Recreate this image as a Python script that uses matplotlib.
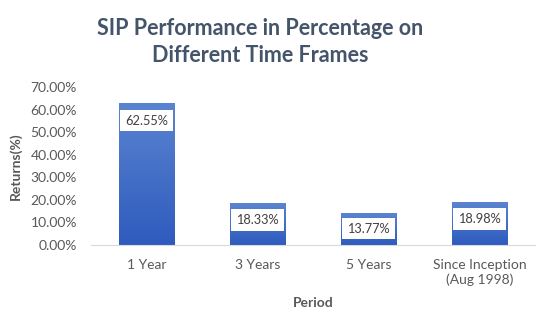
import numpy as np
import matplotlib.pyplot as plt
from matplotlib.colors import LinearSegmentedColormap

categories = ["1 Year", "3 Years", "5 Years", "Since Inception\n(Aug 1998)"]
returns = [62.55, 18.33, 13.77, 18.98]
ytick_vals = [0, 10, 20, 30, 40, 50, 60, 70]

plt.rcParams['font.family'] = ['Lato', 'DejaVu Sans']

fig = plt.figure(figsize=(5.51, 3.26), dpi=100)
ax = fig.add_axes([91 / 551, 1 - 245 / 326, (535 - 91) / 551, (245 - 87) / 326])

x = np.arange(len(categories))
bars = ax.bar(x, returns, width=0.5, color='none', edgecolor='none')

# gradient fill: lighter top, darker bottom
cmap = LinearSegmentedColormap.from_list('blu', ['#2E5BBE', '#5B84D0'])
grad = np.linspace(0, 1, 256).reshape(-1, 1)
for b in bars:
    ax.imshow(grad, extent=[b.get_x(), b.get_x() + b.get_width(), 0, b.get_height()],
              origin='lower', aspect='auto', cmap=cmap, zorder=2)

ax.set_xlim(-0.5, len(categories) - 0.5)
ax.set_ylim(0, 70)

# data labels in white boxes near top of bar
for xi, v in zip(x, returns):
    ax.text(xi, max(v - 7.4, 7.3), f"{v:.2f}%", ha='center', va='center',
            fontsize=9.2, color='#404040', zorder=3,
            bbox=dict(boxstyle='square,pad=0.38', fc='white', ec='none'))

ax.set_xticks(x)
ax.set_xticklabels(categories, fontsize=10, color='#595959', linespacing=1.2)
ax.set_yticks(ytick_vals)
ax.set_yticklabels([f"{v:.2f}%" for v in ytick_vals], fontsize=10, color='#595959')
ax.tick_params(axis='x', length=0, pad=10)
ax.tick_params(axis='y', length=0, pad=10)
for s in ['top', 'right', 'left']:
    ax.spines[s].set_visible(False)
ax.spines['bottom'].set_color('#D9D9D9')

ax.set_ylabel("Returns(%)", fontsize=10, fontweight='bold', color='#595959', labelpad=6)
ax.set_xlabel("Period", fontsize=10, fontweight='bold', color='#595959', labelpad=8)

fig.text(260 / 551, 1 - 42 / 326, "SIP Performance in Percentage on\nDifferent Time Frames",
         ha='center', va='center', fontsize=15.5, fontweight='bold', color='#44546A',
         linespacing=1.35)

fig.savefig('out.png', dpi=100)
